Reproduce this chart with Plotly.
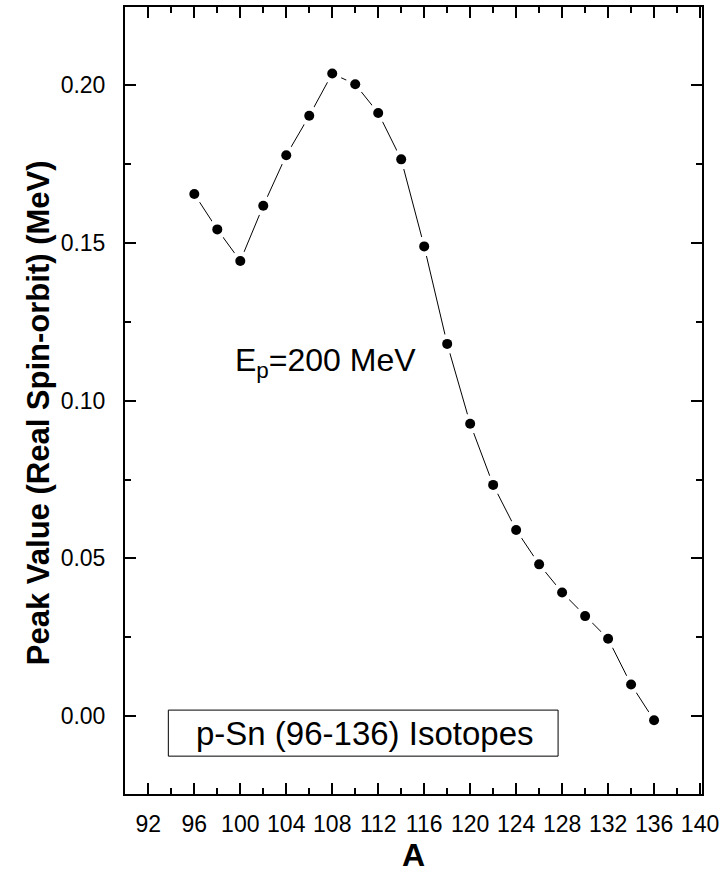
import plotly.graph_objects as go

# Data
A = [96, 98, 100, 102, 104, 106, 108, 110, 112, 114, 116, 118,
     120, 122, 124, 126, 128, 130, 132, 134, 136]
peak = [0.1655, 0.1543, 0.1443, 0.1618, 0.1778, 0.1903, 0.2037, 0.2003,
        0.1912, 0.1765, 0.1489, 0.1180, 0.0927, 0.0733, 0.0590, 0.0481,
        0.0392, 0.0317, 0.0245, 0.0100, -0.0013]

x_ticks = list(range(92, 141, 4))
y_ticks = [0.00, 0.05, 0.10, 0.15, 0.20]

FONT = "Arial, Liberation Sans, sans-serif"

fig = go.Figure()
# connecting line
fig.add_trace(go.Scatter(x=A, y=peak, mode="lines",
                         line=dict(color="black", width=1), hoverinfo="skip"))
# white halo to produce the gaps around markers
fig.add_trace(go.Scatter(x=A, y=peak, mode="markers",
                         marker=dict(color="white", size=20, line=dict(width=0)),
                         hoverinfo="skip"))
# markers
fig.add_trace(go.Scatter(x=A, y=peak, mode="markers",
                         marker=dict(color="black", size=10, line=dict(width=0))))

axis_common = dict(
    showline=True, linecolor="black", linewidth=2, mirror="ticks",
    ticks="inside", ticklen=11, tickwidth=2, tickcolor="black",
    showgrid=False, zeroline=False,
    tickfont=dict(family=FONT, size=23, color="black"),
)

fig.update_xaxes(range=[89.97, 140.17], tickmode="array", tickvals=x_ticks,
                 ticktext=[str(v) for v in x_ticks], ticklabelstandoff=8,
                 minor=dict(ticks="inside", dtick=2, tick0=92, ticklen=6,
                            tickwidth=1.5, tickcolor="black", showgrid=False),
                 **axis_common)
fig.update_yaxes(range=[-0.0247, 0.2248], tickmode="array", tickvals=y_ticks,
                 ticktext=["%.2f" % v for v in y_ticks], ticklabelstandoff=13,
                 minor=dict(ticks="inside", dtick=0.025, tick0=0, ticklen=6,
                            tickwidth=1.5, tickcolor="black", showgrid=False),
                 **axis_common)

# legend-like box
fig.add_shape(type="rect", xref="x", yref="y", x0=93.74, x1=127.65,
              y0=-0.0127, y1=0.0019, line=dict(color="black", width=1),
              fillcolor="white", layer="above")

annotations = [
    dict(text="p-Sn (96-136) Isotopes", x=110.87, y=-0.0054, xref="x", yref="y",
         showarrow=False, xanchor="center", yanchor="middle",
         font=dict(family=FONT, size=33, color="black")),
    dict(text="E<sub>p</sub>=200 MeV", x=99.36, y=0.112, xref="x", yref="y",
         showarrow=False, xanchor="left", yanchor="middle",
         font=dict(family=FONT, size=32, color="black")),
    dict(text="<b>Peak Value (Real Spin-orbit) (MeV)</b>", x=-0.151, y=0.485,
         xref="paper", yref="paper", textangle=-90, showarrow=False,
         xanchor="center", yanchor="middle",
         font=dict(family=FONT, size=31, color="black")),
    dict(text="<b>A</b>", x=0.50, y=-0.0775, xref="paper", yref="paper",
         showarrow=False, xanchor="center", yanchor="middle",
         font=dict(family=FONT, size=32, color="black")),
]

fig.update_layout(
    width=724, height=877,
    margin=dict(l=125, r=22, t=7, b=83, autoexpand=False),
    plot_bgcolor="white", paper_bgcolor="white",
    showlegend=False, annotations=annotations,
)

fig.write_html("out.html")
